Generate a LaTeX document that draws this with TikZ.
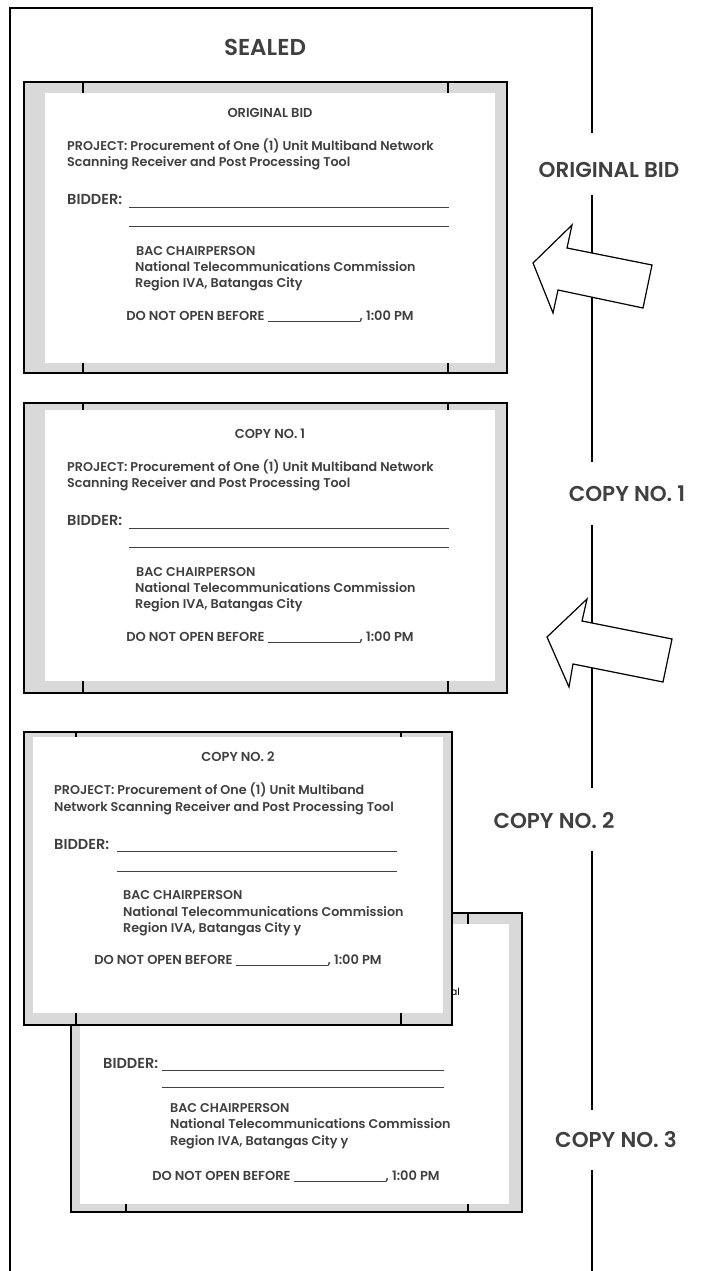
\documentclass[tikz,border=0pt]{standalone}
\usepackage{fontspec}
\setmainfont{Poppins}[BoldFont={Poppins SemiBold}]
\definecolor{inkgray}{HTML}{404040}
\definecolor{flapgray}{HTML}{D9D9D9}
\tikzset{
  frame/.style={line width=1.6pt, black},
  envout/.style={draw=black, line width=1.5pt, fill=flapgray},
  envin/.style={fill=white},
  envtick/.style={line width=1.3pt, black},
  blank/.style={line width=0.6pt, inkgray},
  bigarrow/.style={draw=black, line width=1.2pt, fill=white, line join=miter},
  sidelabel/.style={font=\bfseries\fontsize{21.5}{24}\selectfont, text=inkgray, inner sep=0pt},
  head/.style={font=\bfseries\fontsize{13}{15}\selectfont, text=inkgray, inner sep=0pt, anchor=base},
  body/.style={font=\bfseries\fontsize{12.7}{15}\selectfont, text=inkgray, inner sep=0pt, anchor=base west},
  bidder/.style={font=\bfseries\fontsize{14.5}{16}\selectfont, text=inkgray, inner sep=0pt, anchor=base west}
}
\newcommand{\dateblank}{\rule[-1.5pt]{92pt}{0.6pt}}
\begin{document}
\begin{tikzpicture}[x=1pt, y=-1pt]
\useasboundingbox (0,0) rectangle (702,1271);

% outer sealed envelope
\draw[frame] (10,1271) -- (10,8) -- (592,8) -- (592,133);
\draw[frame] (592,195) -- (592,462);
\draw[frame] (592,525) -- (592,788);
\draw[frame] (592,851) -- (592,1110);
\draw[frame] (592,1170) -- (592,1271);
\node[sidelabel, font=\bfseries\fontsize{23}{26}\selectfont] (sealed) at (265,47) {SEALED};

% copy no. 3 (behind copy no. 2)
\draw[envout] (71,913) rectangle (522,1212);
\fill[envin] (80,924) rectangle (509,1204);
\draw[envtick] (126,913) -- (126,924);
\draw[envtick] (468,913) -- (468,924);
\draw[envtick] (126,1204) -- (126,1212);
\draw[envtick] (468,1204) -- (468,1212);
\node[font=\rmfamily\fontsize{10}{12}\selectfont, inner sep=0pt, anchor=base east] (c3frag) at (460,995) {al};
\node[bidder] (c3bidder) at (103,1068) {BIDDER:};
\draw[blank] (162,1070) -- (444,1070);
\draw[blank] (162,1087) -- (444,1087);
\node[body] (c3bac) at (170,1112.5) {BAC CHAIRPERSON};
\node[body] (c3ntc) at (170,1128.5) {National Telecommunications Commission};
\node[body] (c3reg) at (170,1145) {Region IVA, Batangas City y};
\node[head] (c3open) at (296,1180.5) {DO NOT OPEN BEFORE \dateblank, 1:00 PM};

% copy no. 2
\draw[envout] (24,732) rectangle (452,1025);
\fill[envin] (33,737) rectangle (443,1013);
\draw[envtick] (76,732) -- (76,737);
\draw[envtick] (401,732) -- (401,737);
\draw[envtick] (76,1013) -- (76,1025);
\draw[envtick] (401,1013) -- (401,1025);
\node[head] (c2head) at (238,761.5) {COPY NO. 2};
\node[body] (c2proj) at (54,794.5) {PROJECT: Procurement of One (1) Unit Multiband};
\node[body] (c2projb) at (54,811) {Network Scanning Receiver and Post Processing Tool};
\node[bidder] (c2bidder) at (54,849) {BIDDER:};
\draw[blank] (117,851) -- (397,851);
\draw[blank] (117,871) -- (397,871);
\node[body] (c2bac) at (123,899.5) {BAC CHAIRPERSON};
\node[body] (c2ntc) at (123,916) {National Telecommunications Commission};
\node[body] (c2reg) at (123,932.5) {Region IVA, Batangas City y};
\node[head] (c2open) at (238,964.5) {DO NOT OPEN BEFORE \dateblank, 1:00 PM};

% original bid
\draw[envout] (24,82) rectangle (507,373);
\fill[envin] (45,93) rectangle (495,363);
\draw[envtick] (83,82) -- (83,93);
\draw[envtick] (448,82) -- (448,93);
\draw[envtick] (83,363) -- (83,373);
\draw[envtick] (448,363) -- (448,373);
\node[head] (obhead) at (270,117.5) {ORIGINAL BID};
\node[body] (obproj) at (67,150.5) {PROJECT: Procurement of One (1) Unit Multiband Network};
\node[body] (obprojb) at (67,166.5) {Scanning Receiver and Post Processing Tool};
\node[bidder] (obbidder) at (67,204) {BIDDER:};
\draw[blank] (129,207) -- (449,207);
\draw[blank] (129,226) -- (449,226);
\node[body] (obbac) at (136,255.5) {BAC CHAIRPERSON};
\node[body] (obntc) at (135,271.5) {National Telecommunications Commission};
\node[body] (obreg) at (135,287.5) {Region IVA, Batangas City};
\node[head] (obopen) at (270,320.5) {DO NOT OPEN BEFORE \dateblank, 1:00 PM};

% copy no. 1
\draw[envout] (24,403) rectangle (507,693);
\fill[envin] (45,410) rectangle (495,681);
\draw[envtick] (83,403) -- (83,410);
\draw[envtick] (448,403) -- (448,410);
\draw[envtick] (83,681) -- (83,693);
\draw[envtick] (448,681) -- (448,693);
\node[head] (c1head) at (270,438.5) {COPY NO. 1};
\node[body] (c1proj) at (67,471.5) {PROJECT: Procurement of One (1) Unit Multiband Network};
\node[body] (c1projb) at (67,487.5) {Scanning Receiver and Post Processing Tool};
\node[bidder] (c1bidder) at (67,525) {BIDDER:};
\draw[blank] (129,528) -- (449,528);
\draw[blank] (129,547) -- (449,547);
\node[body] (c1bac) at (136,576.5) {BAC CHAIRPERSON};
\node[body] (c1ntc) at (135,592.5) {National Telecommunications Commission};
\node[body] (c1reg) at (135,608.5) {Region IVA, Batangas City};
\node[head] (c1open) at (270,641.5) {DO NOT OPEN BEFORE \dateblank, 1:00 PM};

% insert arrows
\draw[bigarrow] (533,263) -- (572,225) -- (567,248) -- (652,265) -- (643,308) -- (558,290) -- (553,313) -- cycle;
\draw[bigarrow] (547,637) -- (587,599) -- (582,621) -- (672,639) -- (663,682) -- (573,664) -- (569,687) -- cycle;

% side labels
\node[sidelabel] (lblorig) at (609,170) {ORIGINAL BID};
\node[sidelabel] (lblcopy1) at (627,494) {COPY NO. 1};
\node[sidelabel] (lblcopy2) at (554,821) {COPY NO. 2};
\node[sidelabel] (lblcopy3) at (616,1140) {COPY NO. 3};
\end{tikzpicture}
\end{document}
